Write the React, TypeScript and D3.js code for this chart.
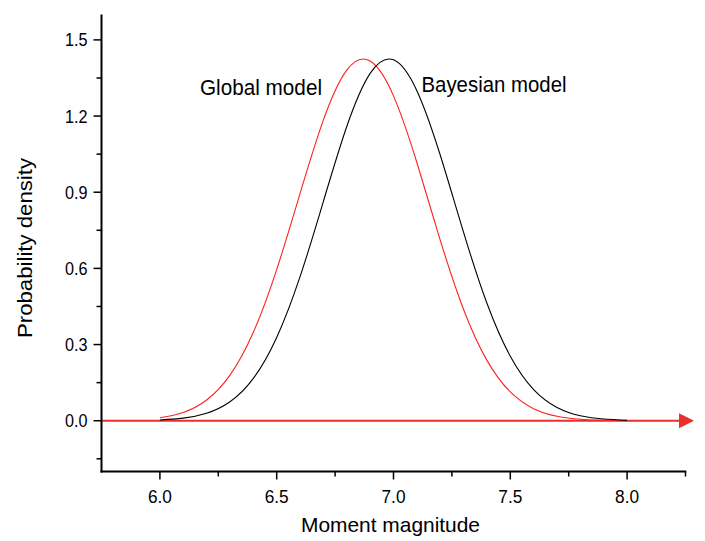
import React from "react";
import * as d3 from "d3";

const magnitudes = [6.0, 6.1, 6.2, 6.3, 6.4, 6.5, 6.6, 6.7, 6.8, 6.9, 7.0, 7.1, 7.2, 7.3, 7.4, 7.5, 7.6, 7.7, 7.8, 7.9, 8.0];
const globalModel = [0.0114, 0.0325, 0.0814, 0.1794, 0.3483, 0.5952, 0.8952, 1.1852, 1.3811, 1.4168, 1.2794, 1.017, 0.7115, 0.4383, 0.2377, 0.1134, 0.0476, 0.0176, 0.0057, 0.0016, 0.0004];
const bayesianModel = [0.0031, 0.0102, 0.0294, 0.0746, 0.1667, 0.3279, 0.5673, 0.8643, 1.159, 1.368, 1.4214, 1.3, 1.0465, 0.7417, 0.4627, 0.2541, 0.1227, 0.0523, 0.0196, 0.0065, 0.0019];
const xMajorTicks = [6.0, 6.5, 7.0, 7.5, 8.0];
const xMinorTicks = [6.25, 6.75, 7.25, 7.75, 8.25];
const yMajorTicks = [0.0, 0.3, 0.6, 0.9, 1.2, 1.5];
const yMinorTicks = [-0.15, 0.15, 0.45, 0.75, 1.05, 1.35];
const seriesNames = ["Global model", "Bayesian model"];
const xTitle = "Moment magnitude";
const yTitle = "Probability density";

const W = 705;
const H = 541;
const FONT = "'Liberation Sans', Arial, sans-serif";

export default function App() {
  const x = d3.scaleLinear().domain([5.75, 8.25]).range([101.5, 685.5]);
  const y = d3.scaleLinear().domain([-0.2, 1.6]).range([471.5, 14.5]);
  const line = d3
    .line<number>()
    .x((_, i) => x(magnitudes[i]))
    .y((d) => y(d))
    .curve(d3.curveNatural);

  const axisX0 = x(5.75);
  const axisY0 = y(-0.2);
  const zeroY = y(0);
  const arrowTip = 694;

  return (
    <div style={{ position: "absolute", left: 0, top: 0 }}>
      <svg width={W} height={H} style={{ display: "block", background: "#fff" }}>
        {/* zero baseline with arrow */}
        <line x1={axisX0} x2={arrowTip - 12} y1={zeroY} y2={zeroY} stroke="#e8302c" strokeWidth={2} />
        <polygon
          points={`${arrowTip},${zeroY} ${arrowTip - 15},${zeroY - 7.5} ${arrowTip - 15},${zeroY + 7.5}`}
          fill="#e8302c"
        />

        {/* curves */}
        <path d={line(globalModel) || ""} fill="none" stroke="#ff2020" strokeWidth={1.1} />
        <path d={line(bayesianModel) || ""} fill="none" stroke="#000" strokeWidth={1.1} />

        {/* y axis */}
        <line x1={axisX0} x2={axisX0} y1={y(1.6)} y2={axisY0 + 1} stroke="#000" strokeWidth={2} />
        {yMajorTicks.map((t) => (
          <g key={"ym" + t}>
            <line x1={axisX0 - 8} x2={axisX0} y1={y(t)} y2={y(t)} stroke="#000" strokeWidth={1.5} />
            <text x={axisX0 - 14} y={y(t) + 6.5} textAnchor="end" fontFamily={FONT} fontSize={17.5} textLength={22.5} lengthAdjust="spacingAndGlyphs" fill="#000">
              {t.toFixed(1)}
            </text>
          </g>
        ))}
        {yMinorTicks.map((t) => (
          <line key={"yn" + t} x1={axisX0 - 5} x2={axisX0} y1={y(t)} y2={y(t)} stroke="#000" strokeWidth={1.5} />
        ))}

        {/* x axis */}
        <line x1={axisX0 - 1} x2={x(8.25) + 0.75} y1={axisY0} y2={axisY0} stroke="#000" strokeWidth={2} />
        {xMajorTicks.map((t) => (
          <g key={"xm" + t}>
            <line x1={x(t)} x2={x(t)} y1={axisY0} y2={axisY0 + 8} stroke="#000" strokeWidth={1.5} />
            <text x={x(t)} y={axisY0 + 31} textAnchor="middle" fontFamily={FONT} fontSize={17.5} textLength={24} lengthAdjust="spacingAndGlyphs" fill="#000">
              {t.toFixed(1)}
            </text>
          </g>
        ))}
        {xMinorTicks.map((t) => (
          <line key={"xn" + t} x1={x(t)} x2={x(t)} y1={axisY0} y2={axisY0 + 5} stroke="#000" strokeWidth={1.5} />
        ))}

        {/* axis titles */}
        <text x={390.5} y={532} textAnchor="middle" fontFamily={FONT} fontSize={21} textLength={179} lengthAdjust="spacingAndGlyphs" fill="#000">
          {xTitle}
        </text>
        <text
          transform={`translate(31.5,248) rotate(-90)`}
          textAnchor="middle"
          fontFamily={FONT}
          fontSize={21}
          textLength={180}
          lengthAdjust="spacingAndGlyphs"
          fill="#000"
        >
          {yTitle}
        </text>

        {/* series labels */}
        <text x={200} y={94.5} fontFamily={FONT} fontSize={22.5} textLength={122} lengthAdjust="spacingAndGlyphs" fill="#000">
          {seriesNames[0]}
        </text>
        <text x={421.5} y={92} fontFamily={FONT} fontSize={22.5} textLength={145} lengthAdjust="spacingAndGlyphs" fill="#000">
          {seriesNames[1]}
        </text>
      </svg>
    </div>
  );
}
